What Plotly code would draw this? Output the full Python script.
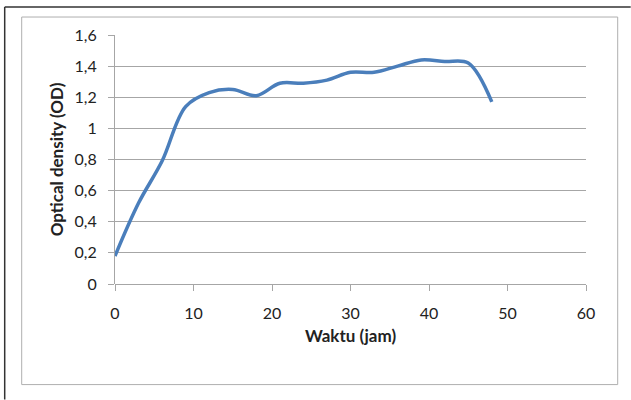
import plotly.graph_objects as go

# Growth curve: optical density over time
waktu = [0, 3, 6, 9, 12, 15, 18, 21, 24, 27, 30, 33, 36, 39, 42, 45, 48]
od = [0.18, 0.52, 0.79, 1.14, 1.23, 1.25, 1.21, 1.29, 1.29, 1.31, 1.36, 1.36, 1.40, 1.44, 1.43, 1.42, 1.17]

y_ticks = [0, 0.2, 0.4, 0.6, 0.8, 1.0, 1.2, 1.4, 1.6]
y_labels = ["0", "0,2", "0,4", "0,6", "0,8", "1", "1,2", "1,4", "1,6"]
x_ticks = [0, 10, 20, 30, 40, 50, 60]

W, H = 631, 400
L, R, T, B = 115.3, 586.3, 35.0, 284.3

def px(x):
    return (x - L) / (R - L)

def py(y):
    return (H - y - (H - B)) / (B - T)

fig = go.Figure()
fig.add_trace(go.Scatter(
    x=waktu, y=od, mode="lines",
    line=dict(color="#4A7EBB", width=3.5, shape="spline", smoothing=1.0),
    showlegend=False, hoverinfo="skip",
))

font = "Lato, Noto Sans, sans-serif"
grid = "#A6A6A6"

fig.update_layout(
    width=W, height=H,
    margin=dict(l=L, r=W - R, t=T, b=H - B, pad=0),
    paper_bgcolor="white", plot_bgcolor="white",
    font=dict(family=font, size=16, color="#222222"),
    xaxis=dict(
        range=[0, 60], tickvals=x_ticks, ticks="outside", ticklen=6,
        tickcolor=grid, showline=False, showgrid=False, zeroline=False,
        ticklabelstandoff=9,
        title=dict(text="<b>Waktu (jam)</b>", font=dict(size=17), standoff=8),
        tickfont=dict(size=16),
    ),
    yaxis=dict(
        range=[0, 1.6], tickvals=y_ticks, ticktext=y_labels, ticks="outside",
        ticklen=6, tickcolor=grid, showline=True, linecolor=grid, linewidth=1,
        showgrid=True, gridcolor=grid, gridwidth=1, zeroline=True,
        zerolinecolor=grid, zerolinewidth=1,
        ticklabelstandoff=8,
        title=dict(text="<b>Optical density (OD)</b>", font=dict(size=17), standoff=6),
        tickfont=dict(size=16),
    ),
    shapes=[
        # chart area box
        dict(type="rect", xref="paper", yref="paper",
             x0=px(22), x1=px(618), y0=py(385), y1=py(17),
             line=dict(color="#AFAFAF", width=1), layer="below"),
        # outer frame edges
        dict(type="line", xref="paper", yref="paper",
             x0=px(5), x1=px(5), y0=py(400), y1=py(7),
             line=dict(color="#333333", width=1.5)),
        dict(type="line", xref="paper", yref="paper",
             x0=px(5), x1=px(631), y0=py(7), y1=py(7),
             line=dict(color="#333333", width=1.5)),
    ],
)

fig.write_html("out.html")
